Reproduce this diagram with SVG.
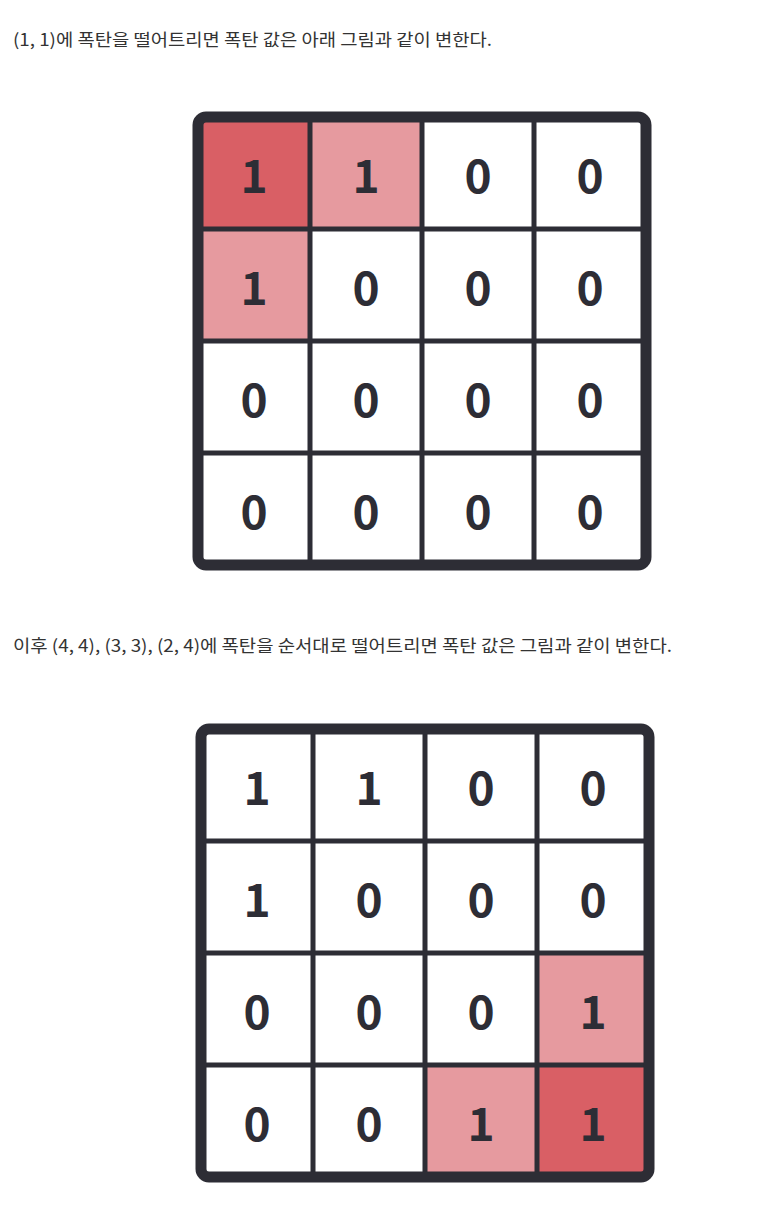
<svg xmlns="http://www.w3.org/2000/svg" width="782" height="1205" viewBox="0 0 782 1205">
<style>
.cap{font-family:"Noto Sans CJK KR","Noto Sans",sans-serif;font-size:17px;fill:#333333}
.num{font-family:"Noto Sans CJK KR","Noto Sans",sans-serif;font-size:46px;font-weight:bold;fill:#2D2D35;text-anchor:middle}
.hot{fill:#D95F65}
.warm{fill:#E69A9F}
.cold{fill:#FFFFFF}
.inner{stroke:#2D2D35;stroke-width:5;fill:none}
.outer{stroke:#2D2D35;stroke-width:11;fill:none}
</style>
<defs>
<clipPath id="clip1"><rect x="198" y="117" width="448" height="448" rx="8"/></clipPath>
<clipPath id="clip2"><rect x="201" y="729" width="448" height="448" rx="8"/></clipPath>
</defs>
<rect width="782" height="1205" fill="#FFFFFF"/>
<text id="caption1" class="cap" x="13" y="46" textLength="479" lengthAdjust="spacingAndGlyphs">(1, 1)에 폭탄을 떨어트리면 폭탄 값은 아래 그림과 같이 변한다.</text>
<g id="grid1">
<g clip-path="url(#clip1)">
<g id="g1-r1c1"><rect class="hot" x="198" y="117" width="112" height="112"/><text class="num" x="254" y="193">1</text></g>
<g id="g1-r1c2"><rect class="warm" x="310" y="117" width="112" height="112"/><text class="num" x="366" y="193">1</text></g>
<g id="g1-r1c3"><rect class="cold" x="422" y="117" width="112" height="112"/><text class="num" x="478" y="193">0</text></g>
<g id="g1-r1c4"><rect class="cold" x="534" y="117" width="112" height="112"/><text class="num" x="590" y="193">0</text></g>
<g id="g1-r2c1"><rect class="warm" x="198" y="229" width="112" height="112"/><text class="num" x="254" y="305">1</text></g>
<g id="g1-r2c2"><rect class="cold" x="310" y="229" width="112" height="112"/><text class="num" x="366" y="305">0</text></g>
<g id="g1-r2c3"><rect class="cold" x="422" y="229" width="112" height="112"/><text class="num" x="478" y="305">0</text></g>
<g id="g1-r2c4"><rect class="cold" x="534" y="229" width="112" height="112"/><text class="num" x="590" y="305">0</text></g>
<g id="g1-r3c1"><rect class="cold" x="198" y="341" width="112" height="112"/><text class="num" x="254" y="417">0</text></g>
<g id="g1-r3c2"><rect class="cold" x="310" y="341" width="112" height="112"/><text class="num" x="366" y="417">0</text></g>
<g id="g1-r3c3"><rect class="cold" x="422" y="341" width="112" height="112"/><text class="num" x="478" y="417">0</text></g>
<g id="g1-r3c4"><rect class="cold" x="534" y="341" width="112" height="112"/><text class="num" x="590" y="417">0</text></g>
<g id="g1-r4c1"><rect class="cold" x="198" y="453" width="112" height="112"/><text class="num" x="254" y="529">0</text></g>
<g id="g1-r4c2"><rect class="cold" x="310" y="453" width="112" height="112"/><text class="num" x="366" y="529">0</text></g>
<g id="g1-r4c3"><rect class="cold" x="422" y="453" width="112" height="112"/><text class="num" x="478" y="529">0</text></g>
<g id="g1-r4c4"><rect class="cold" x="534" y="453" width="112" height="112"/><text class="num" x="590" y="529">0</text></g>
</g>
<g id="g1-lines">
<path class="inner" d="M310 117V565M422 117V565M534 117V565M198 229H646M198 341H646M198 453H646"/>
<rect class="outer" x="198" y="117" width="448" height="448" rx="8"/>
</g>
</g>
<text id="caption2" class="cap" x="13" y="652" textLength="659" lengthAdjust="spacingAndGlyphs">이후 (4, 4), (3, 3), (2, 4)에 폭탄을 순서대로 떨어트리면 폭탄 값은 그림과 같이 변한다.</text>
<g id="grid2">
<g clip-path="url(#clip2)">
<g id="g2-r1c1"><rect class="cold" x="201" y="729" width="112" height="112"/><text class="num" x="257" y="805">1</text></g>
<g id="g2-r1c2"><rect class="cold" x="313" y="729" width="112" height="112"/><text class="num" x="369" y="805">1</text></g>
<g id="g2-r1c3"><rect class="cold" x="425" y="729" width="112" height="112"/><text class="num" x="481" y="805">0</text></g>
<g id="g2-r1c4"><rect class="cold" x="537" y="729" width="112" height="112"/><text class="num" x="593" y="805">0</text></g>
<g id="g2-r2c1"><rect class="cold" x="201" y="841" width="112" height="112"/><text class="num" x="257" y="917">1</text></g>
<g id="g2-r2c2"><rect class="cold" x="313" y="841" width="112" height="112"/><text class="num" x="369" y="917">0</text></g>
<g id="g2-r2c3"><rect class="cold" x="425" y="841" width="112" height="112"/><text class="num" x="481" y="917">0</text></g>
<g id="g2-r2c4"><rect class="cold" x="537" y="841" width="112" height="112"/><text class="num" x="593" y="917">0</text></g>
<g id="g2-r3c1"><rect class="cold" x="201" y="953" width="112" height="112"/><text class="num" x="257" y="1029">0</text></g>
<g id="g2-r3c2"><rect class="cold" x="313" y="953" width="112" height="112"/><text class="num" x="369" y="1029">0</text></g>
<g id="g2-r3c3"><rect class="cold" x="425" y="953" width="112" height="112"/><text class="num" x="481" y="1029">0</text></g>
<g id="g2-r3c4"><rect class="warm" x="537" y="953" width="112" height="112"/><text class="num" x="593" y="1029">1</text></g>
<g id="g2-r4c1"><rect class="cold" x="201" y="1065" width="112" height="112"/><text class="num" x="257" y="1141">0</text></g>
<g id="g2-r4c2"><rect class="cold" x="313" y="1065" width="112" height="112"/><text class="num" x="369" y="1141">0</text></g>
<g id="g2-r4c3"><rect class="warm" x="425" y="1065" width="112" height="112"/><text class="num" x="481" y="1141">1</text></g>
<g id="g2-r4c4"><rect class="hot" x="537" y="1065" width="112" height="112"/><text class="num" x="593" y="1141">1</text></g>
</g>
<g id="g2-lines">
<path class="inner" d="M313 729V1177M425 729V1177M537 729V1177M201 841H649M201 953H649M201 1065H649"/>
<rect class="outer" x="201" y="729" width="448" height="448" rx="8"/>
</g>
</g>
</svg>
